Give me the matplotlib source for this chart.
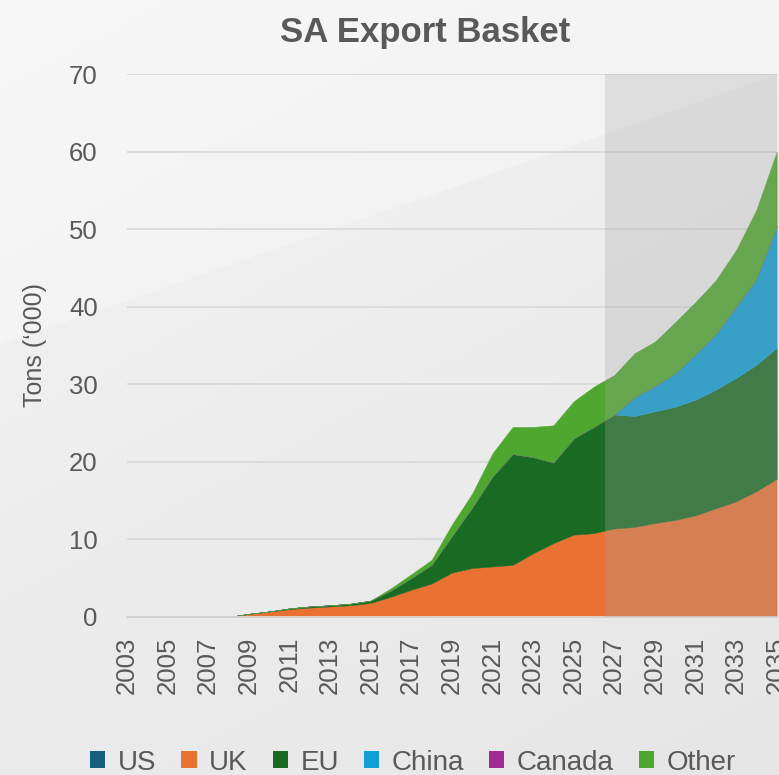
import numpy as np
import matplotlib
matplotlib.use("Agg")
import matplotlib.pyplot as plt
from matplotlib.colors import LinearSegmentedColormap
from matplotlib.patches import Polygon, Rectangle, Patch

# datos (miles de toneladas), 2003..2035
years = np.arange(2003, 2036)
us = [0, 0, 0, 0, 0, 0, 0, 0, 0, 0, 0, 0, 0, 0, 0, 0, 0,
      0, 0, 0, 0, 0, 0, 0, 0, 0, 0, 0, 0, 0, 0, 0, 0]
uk = [0, 0, 0, 0, 0, 0, 0.4, 0.7, 1.0, 1.2, 1.35, 1.5, 1.8,
      2.6, 3.5, 4.3, 5.7, 6.3, 6.5, 6.7, 8.2, 9.5, 10.6, 10.8,
      11.4, 11.6, 12.1, 12.5, 13.1, 14.0, 14.9, 16.2, 17.8]
eu = [0, 0, 0, 0, 0, 0, 0, 0, 0.1, 0.15, 0.15, 0.2, 0.3,
      0.8, 1.5, 2.4, 4.7, 7.8, 11.6, 14.3, 12.4, 10.4, 12.4, 13.7,
      14.7, 14.3, 14.4, 14.6, 14.9, 15.3, 15.9, 16.3, 16.9]
china = [0, 0, 0, 0, 0, 0, 0, 0, 0, 0, 0, 0, 0,
         0, 0, 0, 0, 0, 0, 0, 0, 0, 0, 0,
         0, 2.4, 3.3, 4.3, 5.9, 7.2, 9.2, 11.1, 15.7]
canada = [0, 0, 0, 0, 0, 0, 0, 0, 0, 0, 0, 0, 0, 0, 0, 0, 0,
          0, 0, 0, 0, 0, 0, 0, 0, 0, 0, 0, 0, 0, 0, 0, 0]
other = [0, 0, 0, 0, 0, 0, 0, 0, 0, 0, 0, 0, 0,
         0.3, 0.5, 0.65, 1.5, 1.8, 3.0, 3.5, 3.9, 4.8, 4.8, 5.2,
         5.1, 5.7, 5.7, 6.6, 6.7, 6.9, 7.3, 8.9, 9.6]

labels = ["US", "UK", "EU", "China", "Canada", "Other"]
colors = ["#156082", "#E97132", "#196B24", "#0F9ED5", "#A02B93", "#4EA72E"]
forecast_start = 2026.55
yticks = [0, 10, 20, 30, 40, 50, 60, 70]
xticks = np.arange(2003, 2036, 2)

plt.rcParams['font.family'] = ['Liberation Sans', 'DejaVu Sans']
TXT = "#595959"

fig = plt.figure(figsize=(7.79, 7.75), dpi=100)

# fondo con degradado suave (claro arriba a la izquierda)
bg = fig.add_axes([0, 0, 1, 1], zorder=-10)
gx, gy = np.meshgrid(np.linspace(0, 1, 200), np.linspace(0, 1, 200))
grad = 0.35 * gx + 0.65 * gy
cmap_bg = LinearSegmentedColormap.from_list("bg", ["#F4F4F4", "#E6E6E6"])
bg.imshow(grad, extent=[0, 1, 0, 1], origin='upper', cmap=cmap_bg,
          vmin=0, vmax=1, aspect='auto')
bg.add_patch(Polygon([[0, 1], [1, 1], [1, 1 - 74 / 775], [0, 1 - 345 / 775]],
                     closed=True, facecolor='white', alpha=0.3, lw=0))
bg.set_xlim(0, 1)
bg.set_ylim(0, 1)
bg.set_axis_off()

ax = fig.add_axes([0.163, 0.204, 0.834, 0.7005])
ax.patch.set_alpha(0)

ax.stackplot(years, us, uk, eu, china, canada, other, colors=colors,
             labels=labels, edgecolor='face', linewidth=0.3, zorder=2)

# zona de proyeccion sombreada
ax.add_patch(Rectangle((forecast_start, 0), 2035 - forecast_start, 70,
                       facecolor='#A6A6A6', alpha=0.28, lw=0, zorder=3))

ax.set_xlim(2003, 2035)
ax.set_ylim(0, 70)
ax.set_yticks(yticks)
ax.set_xticks(xticks)
ax.set_xticklabels([str(x) for x in xticks], rotation=90)
ax.tick_params(axis='both', length=0, labelsize=18.5, labelcolor=TXT)
ax.tick_params(axis='y', pad=21)
ax.tick_params(axis='x', pad=14)
ax.grid(axis='y', color='#D9D9D9', linewidth=1.3, zorder=0)
ax.set_axisbelow(True)
for s in ['top', 'right', 'left']:
    ax.spines[s].set_visible(False)
ax.spines['bottom'].set_color('#D9D9D9')
ax.spines['bottom'].set_linewidth(1.3)

ax.set_ylabel("Tons (\u2018000)", fontsize=18, color=TXT, labelpad=16)

fig.text(0.546, 0.958, "SA Export Basket", ha='center', va='center',
         fontsize=25, fontweight='bold', color=TXT)

handles = [Patch(facecolor=c, edgecolor='none') for c in colors]
leg = fig.legend(handles, labels, loc='center', bbox_to_anchor=(0.530, 0.016),
                 ncol=6, frameon=False, fontsize=20, handlelength=0.55,
                 handleheight=0.55, handletextpad=0.45, columnspacing=0.9,
                 borderaxespad=0)
for t in leg.get_texts():
    t.set_color(TXT)

fig.savefig("out.png", dpi=100)
